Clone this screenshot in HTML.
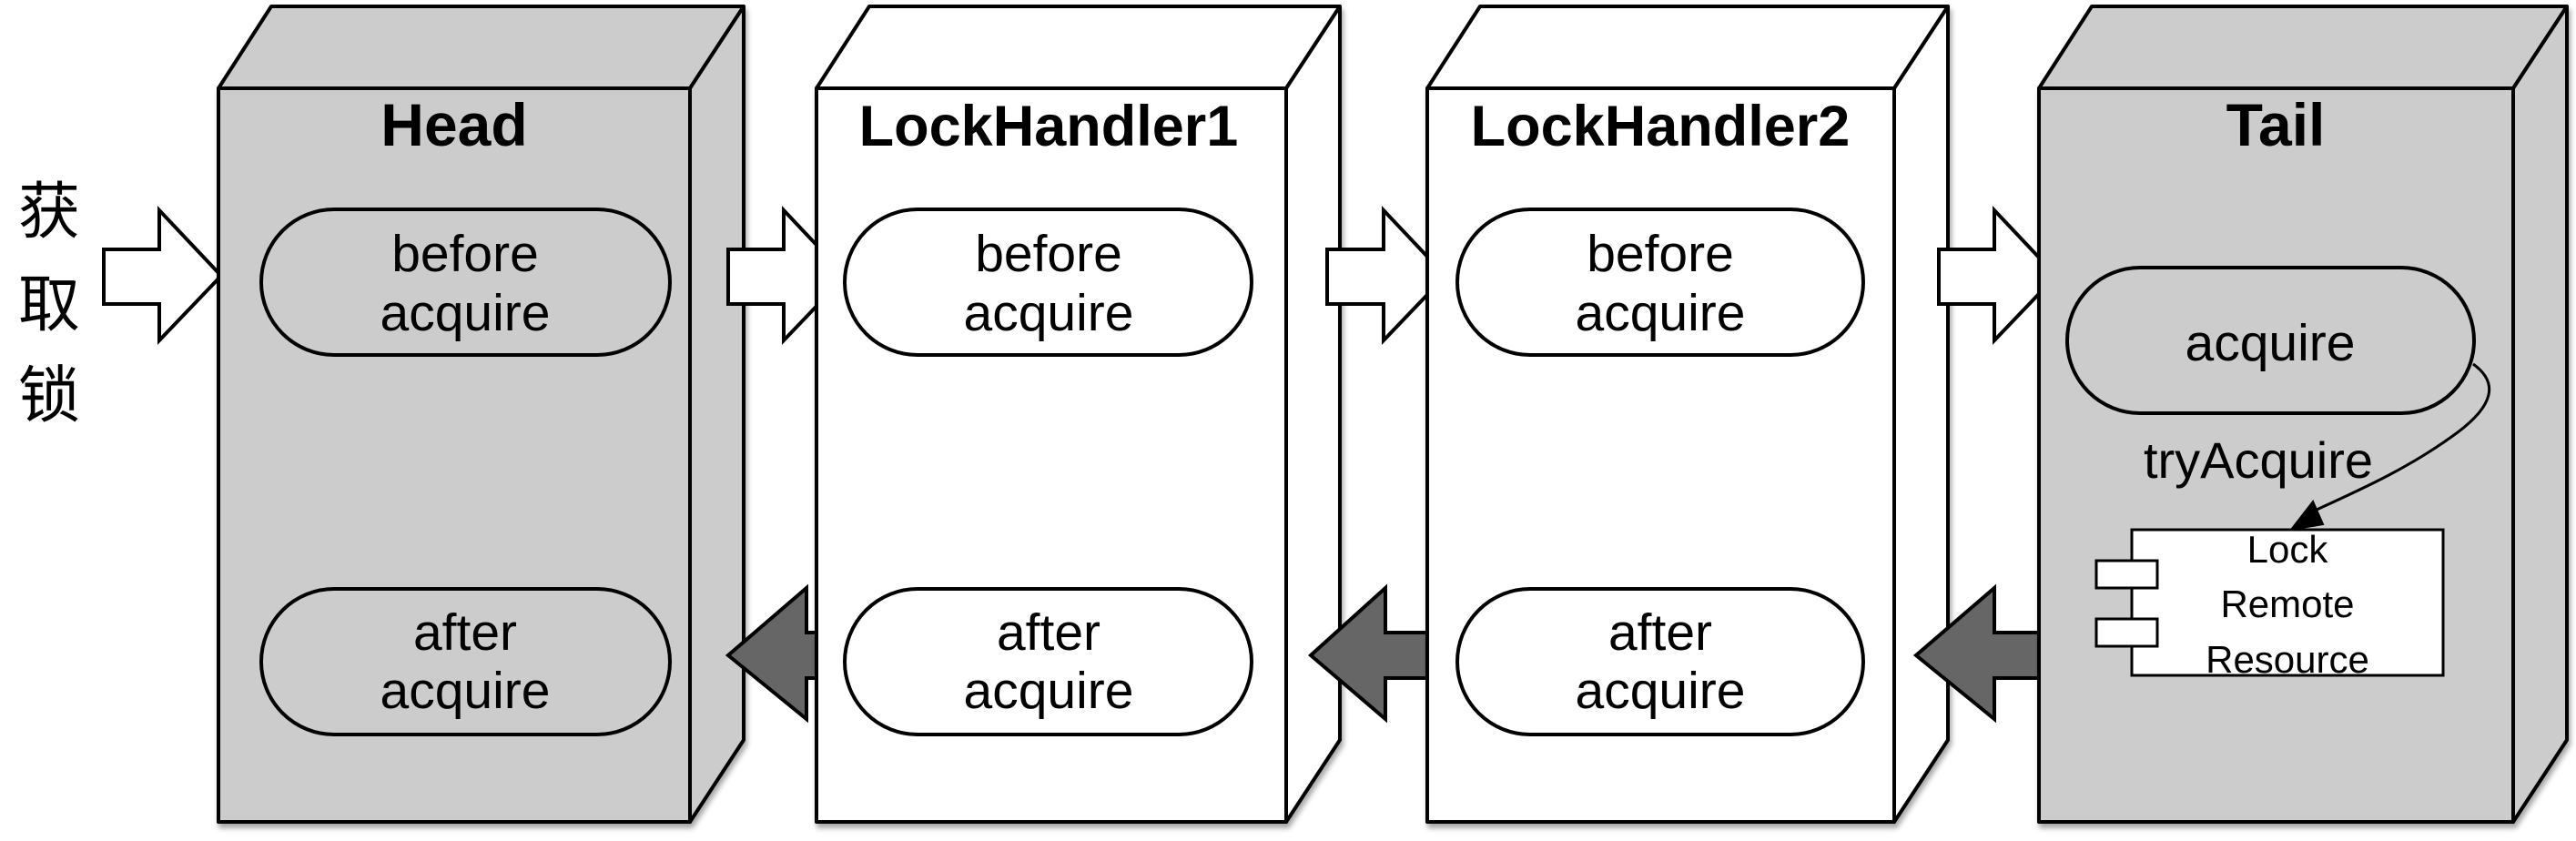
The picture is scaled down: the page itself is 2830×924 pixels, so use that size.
<!DOCTYPE html>
<html><head><meta charset="utf-8"><style>
html,body{margin:0;padding:0;background:#fff;}
svg{display:block;}
text{font-family:"Liberation Sans","Noto Sans CJK SC",sans-serif;fill:#000;}
</style></head><body>
<svg width="2830" height="924" viewBox="0 0 2830 924" xmlns="http://www.w3.org/2000/svg">
<defs>
<filter id="sh" x="-10%" y="-10%" width="130%" height="130%"><feDropShadow dx="2" dy="5" stdDeviation="3" flood-color="#000" flood-opacity="0.35"/></filter>
</defs>

<!-- Chinese label -->
<text x="54" y="256" font-size="68" text-anchor="middle">获</text>
<text x="54" y="358" font-size="68" text-anchor="middle">取</text>
<text x="54" y="458" font-size="68" text-anchor="middle">锁</text>

<!-- entry arrow -->
<polygon points="114,274 175,274 175,231 243,303 175,374 175,334 114,334" fill="#fff" stroke="#000" stroke-width="4" stroke-linejoin="miter"/>

<!-- HEAD box -->
<g filter="url(#sh)" stroke="#000" stroke-width="4" stroke-linejoin="round">
<polygon points="240,97 298,7 817,7 758,97" fill="#cccccc"/>
<polygon points="758,97 817,7 817,813 758,903" fill="#cccccc"/>
<rect x="240" y="97" width="518" height="806" fill="#cccccc"/>
</g>
<text x="499" y="160" font-size="66" font-weight="bold" text-anchor="middle">Head</text>
<rect x="287" y="230" width="449" height="160" rx="80" fill="#cccccc" stroke="#000" stroke-width="4"/>
<text x="511" y="298" font-size="57" text-anchor="middle">before</text>
<text x="511" y="363" font-size="57" text-anchor="middle">acquire</text>
<rect x="287" y="647" width="449" height="160" rx="80" fill="#cccccc" stroke="#000" stroke-width="4"/>
<text x="511" y="714" font-size="57" text-anchor="middle">after</text>
<text x="511" y="778" font-size="57" text-anchor="middle">acquire</text>

<!-- arrows head->LH1 -->
<polygon points="800,274 861,274 861,231 929,303 861,374 861,334 800,334" fill="#fff" stroke="#000" stroke-width="4"/>
<polygon points="930,695 886,695 886,646 800,720 886,790 886,745 930,745" fill="#666" stroke="#000" stroke-width="4"/>

<!-- LH1 -->
<g filter="url(#sh)" stroke="#000" stroke-width="4" stroke-linejoin="round">
<polygon points="897,97 955,7 1472,7 1413,97" fill="#fff"/>
<polygon points="1413,97 1472,7 1472,813 1413,903" fill="#fff"/>
<rect x="897" y="97" width="516" height="806" fill="#fff"/>
</g>
<text x="1152" y="160" font-size="63" font-weight="bold" text-anchor="middle">LockHandler1</text>
<rect x="928" y="230" width="447" height="160" rx="80" fill="#fff" stroke="#000" stroke-width="4"/>
<text x="1152" y="298" font-size="57" text-anchor="middle">before</text>
<text x="1152" y="363" font-size="57" text-anchor="middle">acquire</text>
<rect x="928" y="647" width="447" height="160" rx="80" fill="#fff" stroke="#000" stroke-width="4"/>
<text x="1152" y="714" font-size="57" text-anchor="middle">after</text>
<text x="1152" y="778" font-size="57" text-anchor="middle">acquire</text>

<!-- arrows LH1->LH2 -->
<polygon points="1458,274 1520,274 1520,231 1588,303 1520,374 1520,334 1458,334" fill="#fff" stroke="#000" stroke-width="4"/>
<polygon points="1600,695 1522,695 1522,646 1440,720 1522,790 1522,745 1600,745" fill="#666" stroke="#000" stroke-width="4"/>

<!-- LH2 -->
<g filter="url(#sh)" stroke="#000" stroke-width="4" stroke-linejoin="round">
<polygon points="1568,97 1626,7 2140,7 2081,97" fill="#fff"/>
<polygon points="2081,97 2140,7 2140,813 2081,903" fill="#fff"/>
<rect x="1568" y="97" width="513" height="806" fill="#fff"/>
</g>
<text x="1824" y="160" font-size="63" font-weight="bold" text-anchor="middle">LockHandler2</text>
<rect x="1601" y="230" width="446" height="160" rx="80" fill="#fff" stroke="#000" stroke-width="4"/>
<text x="1824" y="298" font-size="57" text-anchor="middle">before</text>
<text x="1824" y="363" font-size="57" text-anchor="middle">acquire</text>
<rect x="1601" y="647" width="446" height="160" rx="80" fill="#fff" stroke="#000" stroke-width="4"/>
<text x="1824" y="714" font-size="57" text-anchor="middle">after</text>
<text x="1824" y="778" font-size="57" text-anchor="middle">acquire</text>

<!-- arrows LH2->Tail -->
<polygon points="2130,274 2191,274 2191,231 2259,303 2191,374 2191,334 2130,334" fill="#fff" stroke="#000" stroke-width="4"/>
<polygon points="2270,695 2191,695 2191,646 2105,720 2191,790 2191,745 2270,745" fill="#666" stroke="#000" stroke-width="4"/>

<!-- Tail -->
<g filter="url(#sh)" stroke="#000" stroke-width="4" stroke-linejoin="round">
<polygon points="2240,97 2298,7 2820,7 2761,97" fill="#cccccc"/>
<polygon points="2761,97 2820,7 2820,813 2761,903" fill="#cccccc"/>
<rect x="2240" y="97" width="521" height="806" fill="#cccccc"/>
</g>
<text x="2500" y="160" font-size="66" font-weight="bold" text-anchor="middle">Tail</text>
<rect x="2271" y="294" width="447" height="160" rx="80" fill="#cccccc" stroke="#000" stroke-width="4"/>
<text x="2494" y="396" font-size="57" text-anchor="middle">acquire</text>
<text x="2481" y="525" font-size="56" text-anchor="middle">tryAcquire</text>
<path d="M2717,400 C2745,420 2740,445 2700,475 C2650,512 2600,535 2545,560" fill="none" stroke="#000" stroke-width="3"/>
<polygon points="2517,582 2541,551 2552,576" fill="#000" stroke="#000" stroke-width="2"/>
<rect x="2342" y="582" width="342" height="160" fill="#fff" stroke="#000" stroke-width="3"/>
<rect x="2303" y="616" width="67" height="30" fill="#fff" stroke="#000" stroke-width="3"/>
<rect x="2303" y="680" width="67" height="30" fill="#fff" stroke="#000" stroke-width="3"/>
<text x="2513" y="618" font-size="42" text-anchor="middle">Lock</text>
<text x="2513" y="678" font-size="42" text-anchor="middle">Remote</text>
<text x="2513" y="739" font-size="42" text-anchor="middle">Resource</text>
</svg>
</body></html>
